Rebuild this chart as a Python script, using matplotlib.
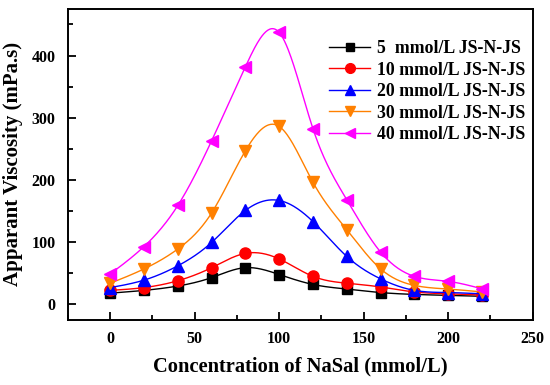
import numpy as np
import matplotlib
matplotlib.use("Agg")
import matplotlib.pyplot as plt
from matplotlib.ticker import MultipleLocator

plt.rcParams["font.family"] = ["Liberation Serif", "DejaVu Serif"]
plt.rcParams["font.weight"] = "bold"

nasal = [0, 20, 40, 60, 80, 100, 120, 140, 160, 180, 200, 220]

visc_5 = [18, 22.5, 29.5, 43, 59, 48, 32, 24.6, 19, 16, 14.5, 13]
visc_10 = [22.5, 27, 38, 59, 82, 73, 45, 34, 28, 20, 17, 15]
visc_20 = [27, 39, 62, 99.6, 151, 167, 133, 77, 41, 22.5, 19, 17]
visc_30 = [34, 57, 89, 147, 247, 286, 196, 120, 57, 30.5, 24.6, 20]
visc_40 = [49, 93, 159, 263, 382, 437, 282, 168, 84, 45, 37, 25]

labels = ["5  mmol/L JS-N-JS", "10 mmol/L JS-N-JS", "20 mmol/L JS-N-JS",
          "30 mmol/L JS-N-JS", "40 mmol/L JS-N-JS"]
colors = ["black", "#FF0000", "#0000FF", "#FF8000", "#FF00FF"]
markers = ["s", "o", "^", "v", "<"]
sizes = [7, 8, 8.5, 8.5, 8.5]


def spline(x, y, n=400):
    # natural cubic spline through the points, just for a smooth line
    x = np.asarray(x, float)
    y = np.asarray(y, float)
    h = np.diff(x)
    m = len(x)
    A = np.zeros((m, m))
    b = np.zeros(m)
    A[0, 0] = A[-1, -1] = 1
    for i in range(1, m - 1):
        A[i, i - 1] = h[i - 1]
        A[i, i] = 2 * (h[i - 1] + h[i])
        A[i, i + 1] = h[i]
        b[i] = 6 * ((y[i + 1] - y[i]) / h[i] - (y[i] - y[i - 1]) / h[i - 1])
    M = np.linalg.solve(A, b)
    xs = np.linspace(x[0], x[-1], n)
    idx = np.clip(np.searchsorted(x, xs) - 1, 0, m - 2)
    x0, x1 = x[idx], x[idx + 1]
    hh = x1 - x0
    t1 = x1 - xs
    t0 = xs - x0
    ys = (M[idx] * t1 ** 3 + M[idx + 1] * t0 ** 3) / (6 * hh) \
        + (y[idx] / hh - M[idx] * hh / 6) * t1 \
        + (y[idx + 1] / hh - M[idx + 1] * hh / 6) * t0
    return xs, ys


fig = plt.figure(figsize=(5.5, 3.85), dpi=100)
ax = fig.add_axes([0.1236, 0.169, 0.845, 0.808])

series = [visc_5, visc_10, visc_20, visc_30, visc_40]
for vals, lab, c, mk, ms in zip(series, labels, colors, markers, sizes):
    xs, ys = spline(nasal, vals)
    ax.plot(xs, ys, color=c, lw=1.0)
    ax.plot(nasal, vals, ls="none", marker=mk, color=c, ms=ms)
    ax.plot([], [], color=c, lw=1.0, marker=mk, ms=ms - 1, label=lab)

ax.set_xlim(-25, 250)
ax.set_ylim(-25, 475)
ax.xaxis.set_major_locator(MultipleLocator(50))
ax.xaxis.set_minor_locator(MultipleLocator(25))
ax.yaxis.set_major_locator(MultipleLocator(100))
ax.yaxis.set_minor_locator(MultipleLocator(50))
ax.tick_params(which="both", direction="in", width=1.3, labelsize=11.5,
               top=False, right=False)
ax.tick_params(which="major", length=6)
ax.tick_params(which="minor", length=3.5)
ax.tick_params(axis="x", which="major", pad=8)
ax.tick_params(axis="y", which="major", pad=9)
for s in ax.spines.values():
    s.set_linewidth(1.4)

ax.set_xlabel("Concentration of NaSal (mmol/L)", fontsize=14.8,
              fontweight="bold", labelpad=7)
ax.set_ylabel("Apparant Viscosity (mPa.s)", fontsize=15,
              fontweight="bold", labelpad=6)

ax.legend(loc="upper right", bbox_to_anchor=(1.0, 0.922), frameon=False,
          fontsize=12.8, handlelength=2.3, handletextpad=0.4,
          labelspacing=0.25, borderaxespad=0)

fig.savefig("out.png", dpi=100)
